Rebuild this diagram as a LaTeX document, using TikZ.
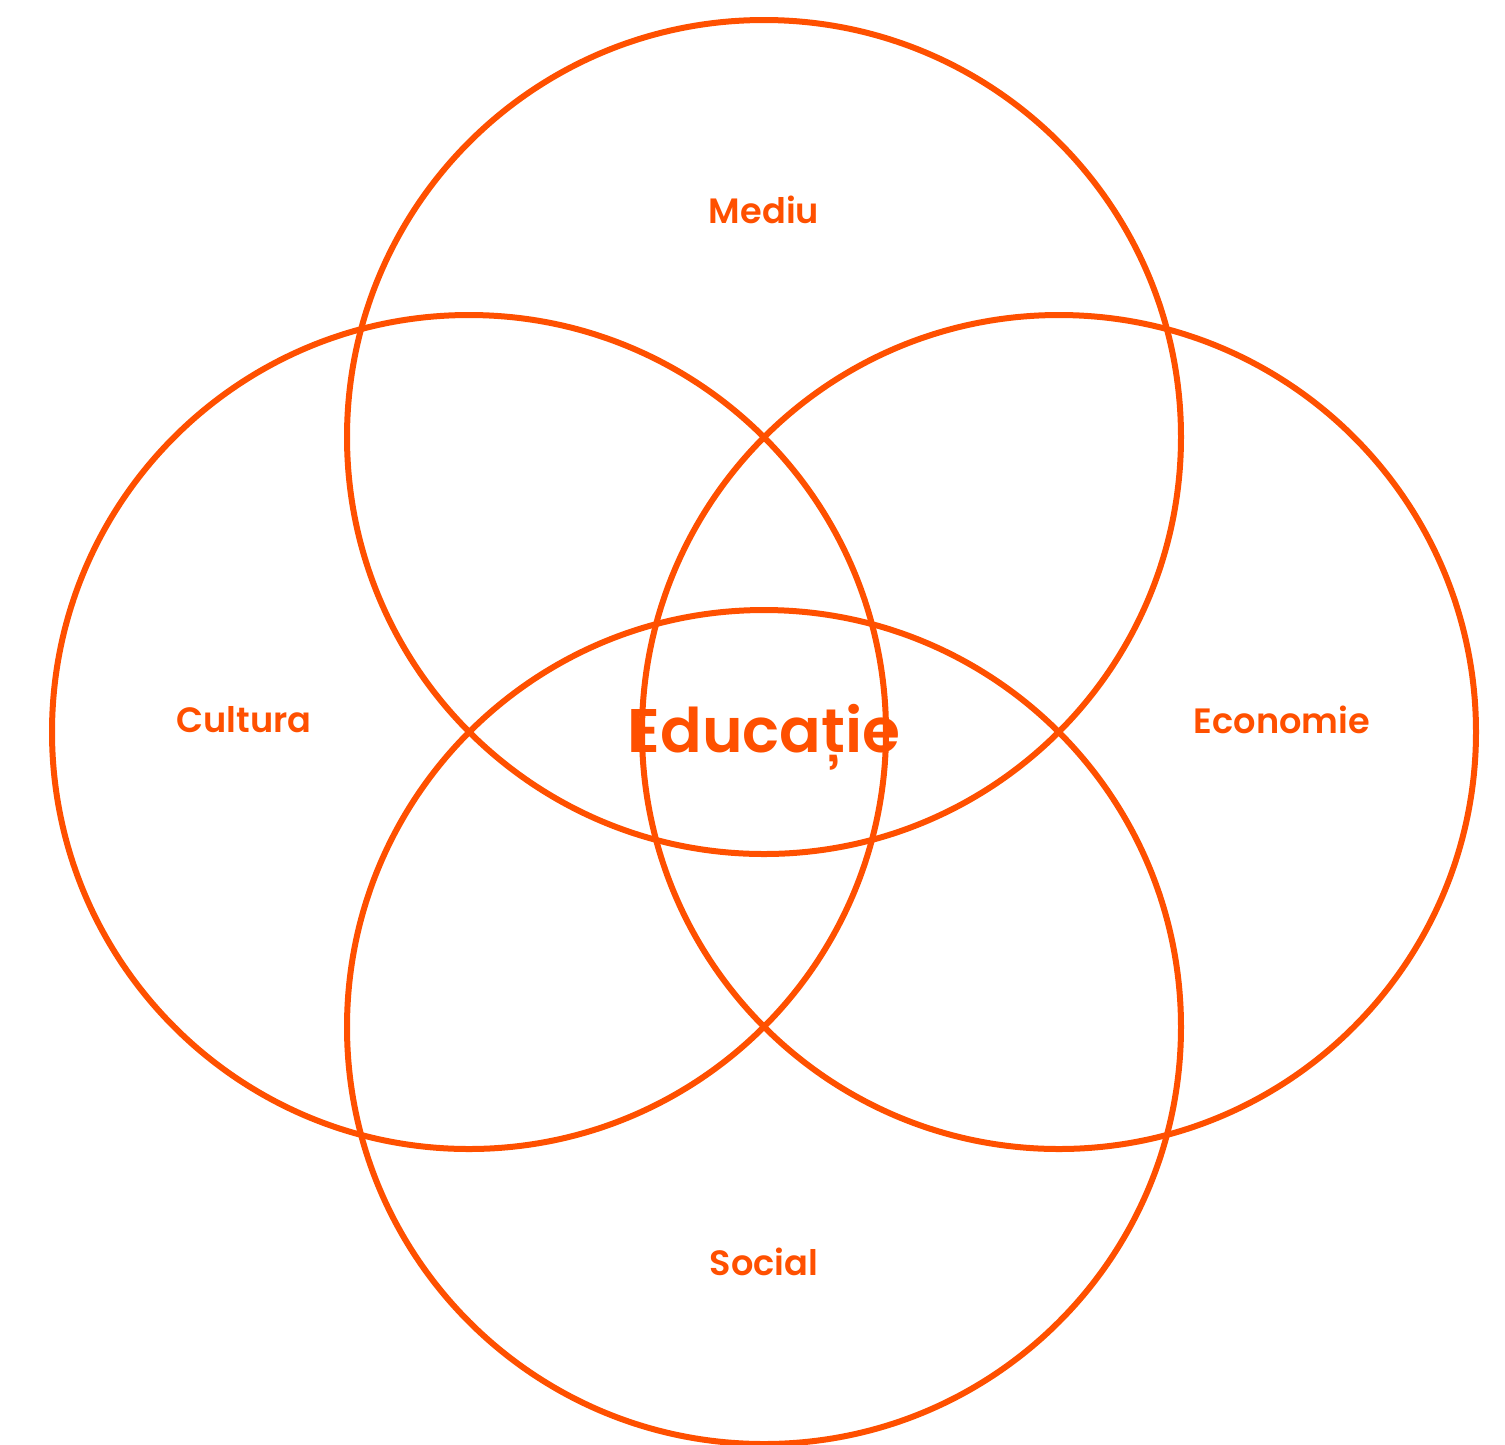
\documentclass[tikz,border=0pt]{standalone}
\usepackage{fontspec}
\setmainfont{Poppins}[BoldFont={Poppins SemiBold}]
\usepackage{tikz}
\usetikzlibrary{positioning}
\definecolor{col1}{RGB}{255,80,0}
\tikzstyle{ring}=[draw=col1, circle, line width=0.12cm, minimum size=16.68cm, inner sep=0pt]
\tikzstyle{lbl}=[text=col1, font=\bfseries\fontsize{20}{24}\selectfont]
\tikzstyle{centre}=[text=col1, font=\bfseries\fontsize{35}{42}\selectfont, anchor=base]

\begin{document}
\begin{tikzpicture}[node distance=5.9cm]
		    \useasboundingbox (0,0) rectangle (30.1,-28.88);
		    \node [coordinate] (c) at (15.28,-14.64) {};
		    \node [ring] (med) [above of=c] {};
		    \node [ring] (cul) [left of=c] {};
		    \node [ring] (eco) [right of=c] {};
		    \node [ring] (soc) [below of=c] {};
		    \node [lbl] (tmed) [above of=c,node distance=10.44cm] {Mediu};
		    \node [lbl] (tcul) at (4.88,-14.4) {Cultura};
		    \node [lbl] (teco) at (25.64,-14.4) {Economie};
		    \node [lbl] (tsoc) [below of=c,node distance=10.6cm] {Social};
		    \node [centre] (edu) at ([yshift=-0.4cm]c) {Educație};
		\end{tikzpicture}
\end{document}
